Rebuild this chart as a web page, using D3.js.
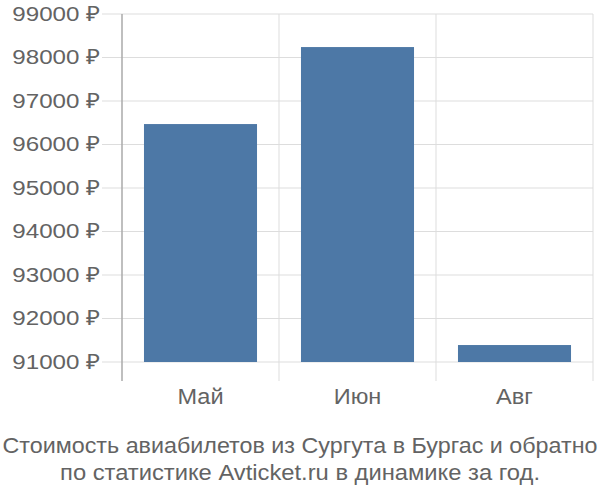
<!DOCTYPE html>
<html>
<head>
<meta charset="UTF-8">
<style>
  body { margin: 0; background: #fff; }
  text { font-family: "Liberation Sans", Arial, sans-serif; fill: #636363; }
</style>
</head>
<body>
<svg></svg>
<script src="https://d3js.org/d3.v7.min.js"></script>
<script>
const months = ["Май", "Июн", "Авг"];
const prices = [96470, 98240, 91390];
const yTicks = [91000, 92000, 93000, 94000, 95000, 96000, 97000, 98000, 99000];
const titleLines = ["Стоимость авиабилетов из Сургута в Бургас и обратно",
                    "по статистике Avticket.ru в динамике за год."];

const width = 600, height = 500;
const svg = d3.select("svg").attr("width", width).attr("height", height);

const plotLeft = 122, plotRight = 593, plotTop = 14, plotBase = 362, plotBottom = 381;

let x = d3.scaleBand().domain(months).range([plotLeft, plotRight]).paddingInner(0).paddingOuter(0);
let y = d3.scaleLinear().domain([91000, 99000]).range([plotBase, plotTop]);

// horizontal grid + ticks
svg.append("g").selectAll("line")
  .data(yTicks)
  .enter().append("line")
  .attr("x1", 102).attr("x2", plotRight)
  .attr("y1", d => y(d)).attr("y2", d => y(d))
  .attr("stroke", "#dddddd").attr("stroke-width", 1);

// vertical separators
svg.append("g").selectAll("line")
  .data(months)
  .enter().append("line")
  .attr("x1", d => x(d) + x.bandwidth()).attr("x2", d => x(d) + x.bandwidth())
  .attr("y1", plotTop).attr("y2", plotBottom)
  .attr("stroke", "#dddddd").attr("stroke-width", 1);

// bars
let inset = x.bandwidth() * 0.14;
svg.append("g").selectAll("rect")
  .data(months)
  .enter().append("rect")
  .attr("x", d => x(d) + inset)
  .attr("width", x.bandwidth() - 2 * inset)
  .attr("y", (d, i) => y(prices[i]))
  .attr("height", (d, i) => plotBase - y(prices[i]))
  .attr("fill", "#4d78a6");

// y axis line
svg.append("line")
  .attr("x1", plotLeft).attr("x2", plotLeft)
  .attr("y1", plotTop).attr("y2", plotBottom)
  .attr("stroke", "#aaaaaa").attr("stroke-width", 1.5);

// y labels (text in the reference is a bit wider than Liberation, so stretch it)
svg.append("g").selectAll("text")
  .data(yTicks)
  .enter().append("text")
  .attr("transform", d => "translate(100," + y(d) + ") scale(1.15,1)")
  .attr("dy", "0.32em")
  .attr("text-anchor", "end")
  .style("font-size", "21px")
  .text(d => d + " ₽");

// x labels
svg.append("g").selectAll("text")
  .data(months)
  .enter().append("text")
  .attr("transform", d => "translate(" + (x(d) + x.bandwidth() / 2) + ",404) scale(1.07,1)")
  .attr("text-anchor", "middle")
  .style("font-size", "22px")
  .text(d => d);

// title
svg.append("g").selectAll("text")
  .data(titleLines)
  .enter().append("text")
  .attr("transform", (d, i) => "translate(300," + (453 + i * 27) + ") scale(" + (i ? 1.08 : 1.06) + ",1)")
  .attr("text-anchor", "middle")
  .style("font-size", "22px")
  .text(d => d);
</script>
</body>
</html>
